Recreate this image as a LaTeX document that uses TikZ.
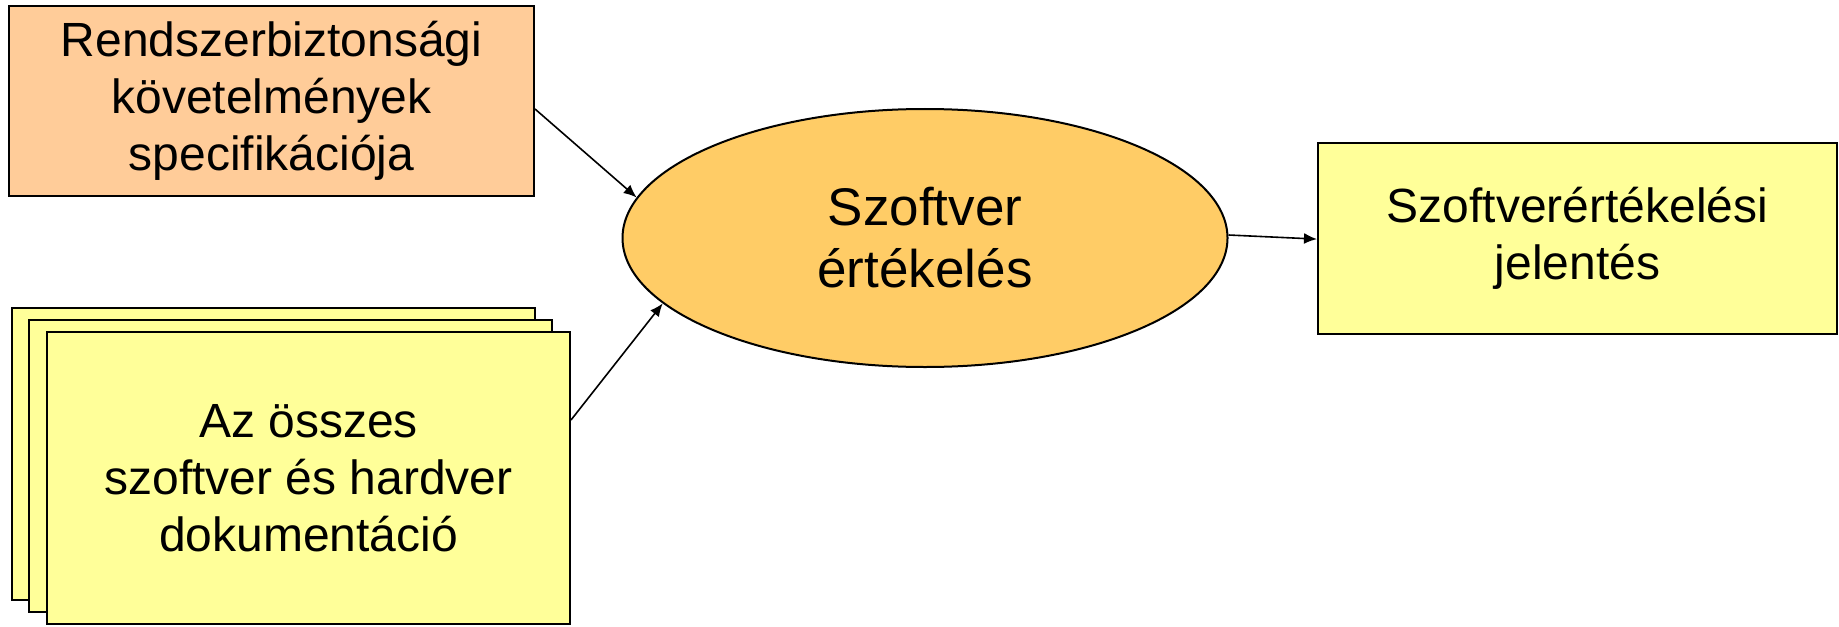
\documentclass[tikz,border=0pt]{standalone}
\usepackage{fontspec}
\setmainfont{Liberation Sans}
\usetikzlibrary{shapes.geometric,arrows.meta}
\definecolor{peach}{HTML}{FFCC99}
\definecolor{lyellow}{HTML}{FFFF99}
\definecolor{gold}{HTML}{FFCC66}
\tikzset{
  box/.style={draw=black, line width=1pt, rectangle, inner sep=0pt, align=center,
    font=\fontsize{24}{28.5}\selectfont},
  stackbox/.style={box, fill=lyellow, minimum width=261.5pt, minimum height=146pt},
  arr/.style={draw=black, line width=0.8pt, -{Latex[length=6.5pt,width=5.5pt]}},
}
\begin{document}
\begin{tikzpicture}[x=0.5pt,y=-0.5pt]
\useasboundingbox (0,0) rectangle (1839,626);
\node[box, fill=peach, minimum width=262.5pt, minimum height=95pt] (req) at (271.5,101)
  {Rendszerbiztonsági\\követelmények\\specifikációja};
\node[stackbox] (docback) at (273.5,454) {};
\node[stackbox] (docmid) at (290.5,466) {};
\node[stackbox] (doc) at (308.5,478)
  {Az összes\\szoftver és hardver\\dokumentáció};
\node[box, ellipse, fill=gold, minimum width=302.5pt, minimum height=129pt,
  font=\fontsize{26.5}{31}\selectfont] (eval) at (925,238) {Szoftver\\értékelés};
\node[box, fill=lyellow, minimum width=259.5pt, minimum height=95.5pt] (rep) at (1577.5,238.5)
  {Szoftverértékelési\\jelentés};
\draw[arr] ([yshift=-4pt]req.east) -- (eval.172);
\draw[arr] ([yshift=29pt]doc.east) -- (eval.194);
\draw[arr] ([yshift=1.5pt]eval.east) -- ([yshift=-0.3pt]rep.west);
\end{tikzpicture}
\end{document}
